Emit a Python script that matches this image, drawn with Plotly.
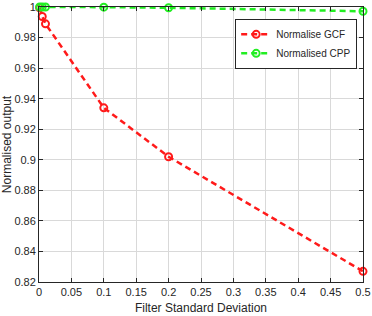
import plotly.graph_objects as go

sigma = [0.001, 0.005, 0.01, 0.1, 0.2, 0.5]
gcf = [0.9995, 0.9938, 0.989, 0.934, 0.902, 0.827]
cpp = [1.0, 1.0, 1.0, 0.9999, 0.9995, 0.9972]
x_ticks = [0, 0.05, 0.1, 0.15, 0.2, 0.25, 0.3, 0.35, 0.4, 0.45, 0.5]
x_labels = ["0", "0.05", "0.1", "0.15", "0.2", "0.25", "0.3", "0.35", "0.4", "0.45", "0.5"]
y_ticks = [0.82, 0.84, 0.86, 0.88, 0.9, 0.92, 0.94, 0.96, 0.98, 1.0]
y_labels = ["0.82", "0.84", "0.86", "0.88", "0.9", "0.92", "0.94", "0.96", "0.98", "1"]

fig = go.Figure()
fig.add_trace(go.Scatter(x=sigma, y=gcf, name="Normalise GCF", mode="lines+markers",
                         line=dict(color="#ff1a1a", width=2.5, dash="6px,4px"),
                         marker=dict(symbol="circle-open", size=7, color="#ff1a1a", line=dict(width=2)),
                         cliponaxis=False))
fig.add_trace(go.Scatter(x=sigma, y=cpp, name="Normalised CPP", mode="lines+markers",
                         line=dict(color="#22ee22", width=2.5, dash="6px,4px"),
                         marker=dict(symbol="circle-open", size=7, color="#22ee22", line=dict(width=2)),
                         cliponaxis=False))

axis_common = dict(showline=True, linecolor="#262626", linewidth=1, mirror="allticks",
                   ticks="inside", ticklen=4, tickcolor="#262626", ticklabeloverflow="allow",
                   automargin=False,
                   showgrid=True, gridcolor="#d9d9d9", gridwidth=1, zeroline=False,
                   tickfont=dict(family="Liberation Sans, Arial", size=11, color="#262626"))
fig.update_xaxes(range=[-1e-6, 0.500001], tickvals=x_ticks, ticktext=x_labels,
                 title=dict(text="Filter Standard Deviation", standoff=6,
                            font=dict(family="Liberation Sans, Arial", size=12, color="#262626")),
                 **axis_common)
fig.update_yaxes(range=[0.82, 1.000001], tickvals=y_ticks, ticktext=y_labels,
                 title=dict(text="Normalised output", standoff=4,
                            font=dict(family="Liberation Sans, Arial", size=12, color="#262626")),
                 **axis_common)
fig.update_layout(width=372, height=316, margin=dict(l=39, r=9, t=7, b=34, autoexpand=False),
                  paper_bgcolor="white", plot_bgcolor="white", showlegend=True,
                  legend=dict(x=0.982, y=0.957, xanchor="right", yanchor="top",
                              bgcolor="white", bordercolor="#262626", borderwidth=1,
                              font=dict(family="Liberation Sans, Arial", size=10, color="#262626"),
                              tracegroupgap=0, itemwidth=30))
fig.write_html("out.html")
